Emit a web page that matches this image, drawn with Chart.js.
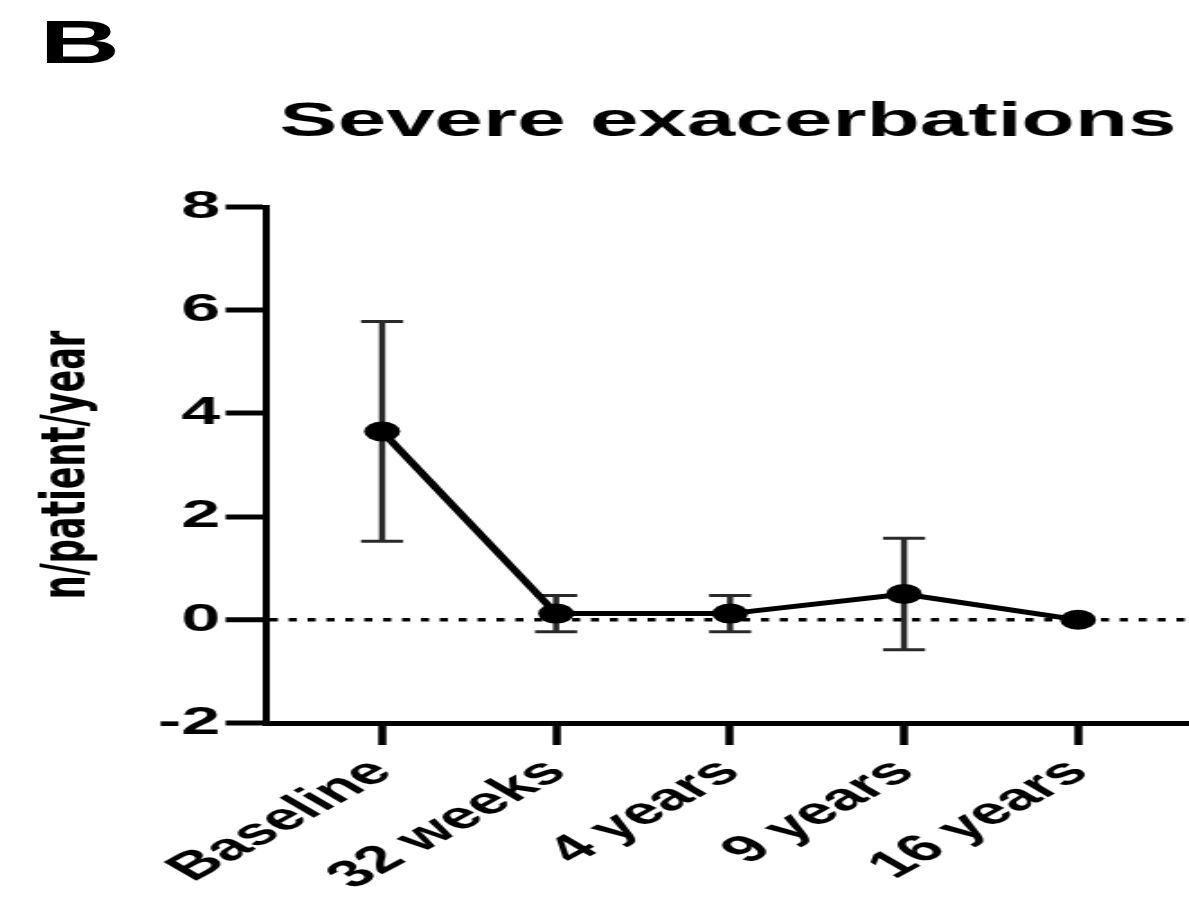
<!DOCTYPE html>
<html>
<head>
<meta charset="utf-8">
<script src="https://cdn.jsdelivr.net/npm/chart.js@4.4.1/dist/chart.umd.min.js"></script>
<style>
  html, body { margin: 0; padding: 0; background: #fff; overflow: hidden; }
  #wrap { position: absolute; left: 0; top: 0; width: 661px; height: 898px;
          transform: scaleX(1.7988); transform-origin: 0 0; }
  #panel { position: absolute; left: 22px; top: 9px; font: bold 62px/65px "Liberation Sans", Arial, sans-serif; color: #000; }
  #c { position: absolute; left: 0; top: 0; }
</style>
</head>
<body>
<div id="wrap">
  <div id="panel">B</div>
  <canvas id="c" width="661" height="898"></canvas>
</div>
<script>
// ---- data ----
const categories = ['Baseline', '32 weeks', '4 years', '9 years', '16 years'];
const means      = [3.65, 0.12, 0.12, 0.50, 0.00];
const sdErrors   = [2.13, 0.35, 0.35, 1.08, 0.00];
const yTicks     = [-2, 0, 2, 4, 6, 8];
const chartTitle = 'Severe exacerbations';
const yTitle     = 'n/patient/year';

// ---- build datasets from the arrays ----
const meanPoints = categories.map((c, i) => ({ x: i, y: means[i] }));
const errStems = categories.map((c, i) => sdErrors[i] > 0 ? ({ x: i, y: [means[i] - sdErrors[i], means[i] + sdErrors[i]] }) : null).filter(Boolean);
const errCaps = [];
categories.forEach((c, i) => {
  if (sdErrors[i] > 0) {
    errCaps.push({ x: i, y: means[i] + sdErrors[i] });
    errCaps.push({ x: i, y: means[i] - sdErrors[i] });
  }
});

const FONT = '"Liberation Sans", Arial, sans-serif';

new Chart(document.getElementById('c'), {
  type: 'line',
  data: {
    datasets: [
      {
        type: 'line', data: meanPoints, order: 0,
        borderColor: '#000', backgroundColor: '#000', borderWidth: 5,
        pointRadius: 10, pointHoverRadius: 10, pointBackgroundColor: '#000', pointBorderWidth: 0,
        tension: 0, fill: false
      },
      {
        type: 'bar', data: errStems, order: 2,
        backgroundColor: '#2a2a2a', borderWidth: 0, barThickness: 2.8, grouped: false
      },
      {
        type: 'scatter', data: errCaps, order: 1,
        pointStyle: 'line', pointRadius: 11.7, pointHoverRadius: 11.7,
        borderColor: '#2a2a2a', pointBorderWidth: 3, borderWidth: 3, showLine: false
      }
    ]
  },
  options: {
    responsive: false,
    maintainAspectRatio: false,
    devicePixelRatio: 1,
    animation: false,
    events: [],
    layout: { padding: 0, autoPadding: false },
    plugins: {
      legend: { display: false },
      tooltip: { enabled: false },
      title: {
        display: true, text: chartTitle, color: '#000', fullSize: false,
        font: { family: FONT, size: 48.5, weight: 'bold' },
        padding: { top: 93.6, bottom: 55.2 }
      }
    },
    scales: {
      x: {
        type: 'linear', min: -0.662, max: 4.638, offset: false,
        afterBuildTicks: (s) => { s.ticks = categories.map((c, i) => ({ value: i })); },
        afterFit: (s) => { s.height = 175; s.paddingLeft = 0; s.paddingRight = 0; },
        ticks: {
          autoSkip: false, minRotation: 44, maxRotation: 44, padding: 5, color: '#000',
          font: { family: FONT, size: 38, weight: 'bold' },
          callback: (v) => categories[v] !== undefined ? categories[v] : ''
        },
        grid: { display: true, offset: false, drawOnChartArea: false, drawTicks: true, tickLength: 22, tickWidth: 4.5, tickColor: '#000' },
        border: { display: true, color: '#000', width: 5 }
      },
      y: {
        type: 'linear', min: -2, max: 8,
        afterBuildTicks: (s) => { s.ticks = yTicks.map(v => ({ value: v })); },
        afterFit: (s) => { s.width = 148.4; },
        ticks: { padding: 3, color: '#000', font: { family: FONT, size: 39, weight: 'bold' } },
        grid: {
          display: true, offset: false, drawOnChartArea: true, drawTicks: true, tickLength: 23, tickWidth: 5, tickColor: '#000',
          color: (ctx) => (ctx.tick && ctx.tick.value === 0) ? '#000' : 'rgba(0,0,0,0)',
          lineWidth: (ctx) => (ctx.tick && ctx.tick.value === 0) ? 3.5 : 0
        },
        border: { display: true, color: '#000', width: 4, dash: [4.5, 6] },
        title: {
          display: true, text: yTitle, color: '#000',
          font: { family: '"DejaVu Sans", sans-serif', size: 33.5, weight: 'bold', lineHeight: 1 },
          padding: { top: 21.5, bottom: 0 }
        }
      }
    }
  }
});
</script>
</body>
</html>
